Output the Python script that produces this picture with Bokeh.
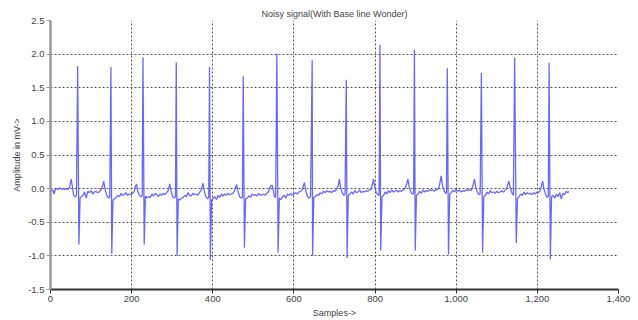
from bokeh.plotting import figure
from bokeh.embed import file_html
from bokeh.resources import INLINE
from bokeh.models import NumeralTickFormatter, FixedTicker, Range1d

# ---- data ----
sample_idx = [
    0, 3, 6, 9, 12, 15, 19, 23, 27, 31, 35, 39, 43, 47, 51, 54, 57, 61, 64, 67, 70, 73,
    76, 80, 84, 88, 92, 96, 100, 104, 108, 112, 116, 120, 124, 128, 131, 135, 139, 143, 146, 149, 151, 154,
    158, 162, 166, 170, 174, 178, 182, 186, 190, 194, 198, 202, 206, 209, 212, 215, 219, 223, 226, 228, 231, 234,
    238, 242, 246, 250, 254, 258, 262, 266, 270, 274, 278, 282, 286, 290, 294, 297, 301, 305, 308, 310, 312, 315,
    319, 323, 327, 331, 335, 339, 343, 347, 351, 355, 359, 363, 367, 371, 376, 379, 383, 387, 390, 392, 394, 397,
    401, 405, 409, 413, 417, 421, 425, 429, 433, 437, 441, 445, 449, 453, 459, 462, 466, 470, 473, 475, 478, 481,
    485, 489, 493, 497, 501, 505, 509, 513, 517, 521, 525, 529, 533, 537, 542, 546, 549, 552, 555, 558, 561, 564,
    568, 572, 576, 580, 584, 588, 592, 596, 600, 604, 608, 612, 616, 620, 626, 629, 633, 637, 641, 645, 646, 649,
    653, 657, 661, 665, 669, 673, 677, 681, 685, 689, 693, 697, 701, 705, 709, 712, 715, 719, 723, 726, 729, 731, 734,
    738, 742, 746, 750, 754, 758, 762, 766, 770, 774, 778, 782, 786, 790, 793, 796, 799, 803, 807, 810, 812, 814, 817,
    821, 825, 829, 833, 837, 841, 845, 849, 853, 857, 861, 865, 869, 873, 877, 881, 884, 888, 892, 895, 897, 899, 902,
    906, 910, 914, 918, 922, 926, 930, 934, 938, 942, 946, 950, 954, 958, 963, 966, 970, 974, 976, 978, 981, 984,
    988, 992, 996, 1000, 1004, 1008, 1012, 1016, 1020, 1024, 1028, 1032, 1036, 1040, 1045, 1048, 1052, 1056, 1059, 1062, 1065, 1068,
    1072, 1076, 1080, 1084, 1088, 1092, 1096, 1100, 1104, 1108, 1112, 1116, 1120, 1124, 1130, 1133, 1137, 1141, 1144, 1148, 1151,
    1155, 1159, 1163, 1167, 1171, 1175, 1179, 1183, 1187, 1191, 1195, 1199, 1203, 1207, 1213, 1216, 1220, 1224, 1227, 1229, 1232, 1235,
    1239, 1243, 1247, 1251, 1255, 1259, 1263, 1267, 1271, 1275, 1278,
]
amplitude = [
    -0.06, -0.03, -0.02, -0.08, -0.01, 0.0, -0.01, 0.01, -0.01, 0.0, -0.01, 0.0, -0.01, 0.02, 0.14, 0.03, -0.10, -0.12, -0.10, 1.82, -0.83, -0.13,
    -0.12, -0.10, -0.05, -0.14, -0.04, -0.06, -0.03, -0.08, -0.05, -0.04, -0.06, -0.05, -0.02, 0.03, 0.11, -0.02, -0.10, -0.14, -0.13, 1.81, -0.97, -0.17,
    -0.15, -0.13, -0.10, -0.12, -0.07, -0.10, -0.09, -0.06, -0.10, -0.08, -0.09, -0.07, -0.05, 0.03, 0.07, -0.04, -0.10, -0.12, -0.11, 1.95, -0.83, -0.11,
    -0.14, -0.12, -0.13, -0.08, -0.11, -0.07, -0.09, -0.12, -0.08, -0.10, -0.07, -0.09, -0.06, -0.03, 0.07, -0.03, -0.12, -0.14, -0.12, 1.88, -1.00, -0.15,
    -0.17, -0.14, -0.13, -0.10, -0.12, -0.06, -0.10, -0.11, -0.07, -0.09, -0.08, -0.10, -0.06, -0.03, 0.08, -0.04, -0.12, -0.15, -0.13, 1.81, -1.06, -0.17,
    -0.15, -0.12, -0.16, -0.10, -0.13, -0.08, -0.11, -0.08, -0.10, -0.07, -0.09, -0.08, -0.07, -0.04, 0.06, -0.03, -0.12, -0.14, -0.13, 1.67, -0.88, -0.15,
    -0.14, -0.11, -0.13, -0.08, -0.10, -0.09, -0.11, -0.07, -0.10, -0.09, -0.08, -0.10, -0.07, -0.05, 0.04, 0.05, -0.02, -0.12, -0.13, 2.01, -0.95, -0.14,
    -0.16, -0.12, -0.10, -0.14, -0.08, -0.10, -0.07, -0.10, -0.08, -0.06, -0.08, -0.05, -0.04, -0.02, 0.09, -0.03, -0.11, -0.14, -0.12, 1.91, -1.00, -0.13,
    -0.12, -0.09, -0.10, -0.06, -0.08, -0.04, -0.06, -0.03, -0.05, -0.04, -0.06, -0.03, -0.04, -0.01, 0.04, 0.14, 0.02, -0.06, -0.10, -0.08, 1.62, -1.03, -0.10,
    -0.08, -0.05, -0.08, -0.03, -0.06, -0.05, -0.02, -0.06, -0.04, -0.05, -0.03, -0.04, -0.02, -0.01, 0.05, 0.14, 0.03, -0.06, -0.09, -0.10, 2.14, -0.92, -0.12,
    -0.10, -0.05, -0.08, -0.03, -0.06, -0.02, -0.05, -0.04, -0.02, -0.05, -0.03, -0.04, -0.02, 0.0, 0.05, 0.14, 0.03, -0.05, -0.08, -0.07, 2.06, -0.92, -0.10,
    -0.08, -0.04, -0.07, -0.02, -0.05, -0.03, -0.04, -0.01, -0.03, -0.02, -0.04, -0.01, -0.02, 0.03, 0.19, 0.05, -0.03, -0.07, -0.06, 1.79, -0.98, -0.08,
    -0.06, -0.02, -0.05, -0.01, -0.04, -0.02, -0.05, -0.03, -0.04, -0.02, -0.03, -0.01, -0.03, 0.01, 0.14, 0.03, -0.05, -0.09, -0.08, 1.72, -0.95, -0.12,
    -0.10, -0.05, -0.08, -0.03, -0.06, -0.05, -0.07, -0.04, -0.06, -0.05, -0.03, -0.05, -0.03, 0.0, 0.11, 0.02, -0.06, -0.10, 1.95, -0.81, -0.15,
    -0.12, -0.08, -0.10, -0.05, -0.09, -0.06, -0.08, -0.07, -0.09, -0.06, -0.08, -0.05, -0.06, -0.03, 0.11, 0.0, -0.08, -0.13, -0.11, 1.87, -1.05, -0.12,
    -0.10, -0.14, -0.08, -0.12, -0.06, -0.15, -0.07, -0.09, -0.04, -0.06, -0.04,
]
x_ticks = [0, 200, 400, 600, 800, 1000, 1200, 1400]
y_ticks = [-1.5, -1.0, -0.5, 0.0, 0.5, 1.0, 1.5, 2.0, 2.5]

title_text = "Noisy signal(With Base line Wonder)"
x_label = "Samples->"
y_label = "Amplitude in mV->"

FONT = "Liberation Sans"

p = figure(width=638, height=320, output_backend="svg", toolbar_location=None,
           x_range=Range1d(0, 1400), y_range=Range1d(-1.5, 2.5),
           title=title_text, min_border_left=50, min_border_right=20,
           min_border_top=20, min_border_bottom=30)

p.line(sample_idx, amplitude, line_color="#4d4dff", line_width=1.3, line_alpha=0.85)

p.title.text_font = FONT
p.title.text_font_size = "9px"
p.title.text_font_style = "normal"
p.title.text_color = "#444444"
p.title.align = "center"
p.title.standoff = 4
p.title.offset = 0

p.outline_line_color = None
p.background_fill_color = "white"
p.border_fill_color = "white"

for g in (p.xgrid[0], p.ygrid[0]):
    g.grid_line_color = "#444444"
    g.grid_line_dash = "2 2"
    g.grid_line_width = 1
    g.grid_line_alpha = 0.9

p.xaxis.ticker = FixedTicker(ticks=x_ticks)
p.yaxis.ticker = FixedTicker(ticks=y_ticks)
p.xaxis.formatter = NumeralTickFormatter(format="0,0")
p.yaxis.formatter = NumeralTickFormatter(format="0.0")

for ax in (p.xaxis[0], p.yaxis[0]):
    ax.major_label_text_font = FONT
    ax.major_label_text_font_size = "9.5px"
    ax.major_label_text_color = "#444444"
    ax.axis_label_text_font = FONT
    ax.axis_label_text_font_size = "9px"
    ax.axis_label_text_font_style = "normal"
    ax.axis_label_text_color = "#444444"
    ax.minor_tick_line_color = None
    ax.major_tick_in = 0
    ax.major_tick_out = 4
    ax.major_label_standoff = 2
    ax.axis_label_standoff = 3

p.xaxis.axis_label = x_label
p.yaxis.axis_label = y_label
p.xaxis.axis_line_color = "#333333"
p.xaxis.axis_line_width = 2
p.xaxis.major_tick_line_color = "#333333"
p.yaxis.axis_line_color = "#999999"
p.yaxis.axis_line_width = 2.5
p.yaxis.major_tick_line_color = "#999999"

open("out.html", "w").write(file_html(p, INLINE))
